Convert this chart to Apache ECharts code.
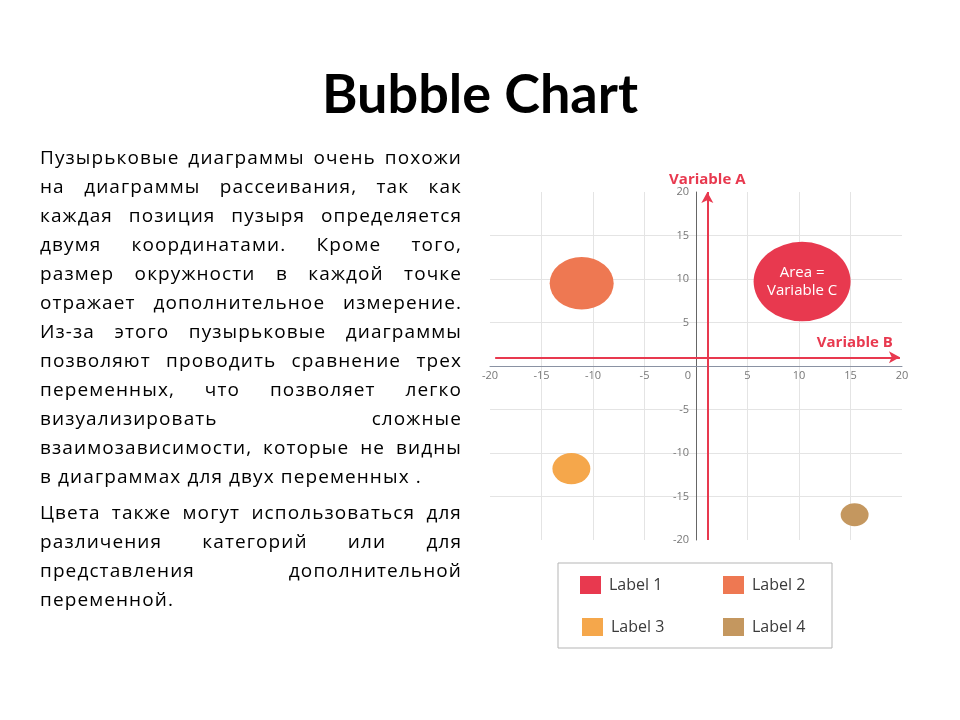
<!DOCTYPE html>
<html>
<head>
<meta charset="utf-8">
<script src="https://cdn.jsdelivr.net/npm/echarts@6/dist/echarts.min.js"></script>
<style>
html,body{margin:0;padding:0;background:#fff;}
#main{position:absolute;left:0;top:0;width:960px;height:720px;}
#text{position:absolute;left:40px;top:143px;width:422px;font-family:"Open Sans",sans-serif;font-size:19px;letter-spacing:1.1px;line-height:29px;color:#000;}
#text .ln{text-align:justify;text-align-last:justify;white-space:nowrap;}
#text .end{text-align:left;text-align-last:left;}
#text .p2{margin-top:7px;}
</style>
</head>
<body>
<div id="main"></div>
<div id="text"></div>
<script>
// строки текста слева
var para1 = [
  "Пузырьковые диаграммы очень похожи",
  "на диаграммы рассеивания, так как",
  "каждая позиция пузыря определяется",
  "двумя координатами. Кроме того,",
  "размер окружности в каждой точке",
  "отражает дополнительное измерение.",
  "Из-за этого пузырьковые диаграммы",
  "позволяют проводить сравнение трех",
  "переменных, что позволяет легко",
  "визуализировать сложные",
  "взаимозависимости, которые не видны",
  "в диаграммах для двух переменных ."
];
var para2 = [
  "Цвета также могут использоваться для",
  "различения категорий или для",
  "представления дополнительной",
  "переменной."
];

// данные пузырей: [x, y, площадь]
var labels = ["Label 1", "Label 2", "Label 3", "Label 4"];
var colors = ["#E8394F", "#EE7852", "#F5A74B", "#C4975F"];
var pointsB = [10.3, -11.1, -12.1, 15.4];
var pointsA = [9.7, 9.5, -11.8, -17.1];
var areaC = [94, 41, 14.4, 7.8];
var ticks = [-20, -15, -10, -5, 0, 5, 10, 15, 20];
var arrowA = [[1.1, -20], [1.1, 20]];
var arrowB = [[-19.5, 1], [19.8, 1]];

var html = "";
function addPara(lines, cls) {
  html += '<div class="' + cls + '">';
  for (var i = 0; i < lines.length; i++) {
    html += '<div class="ln' + (i == lines.length - 1 ? ' end' : '') + '">' + lines[i] + '</div>';
  }
  html += '</div>';
}
addPara(para1, "p1");
addPara(para2, "p2");
document.getElementById("text").innerHTML = html;

var myChart = echarts.init(document.getElementById('main'));

var series = [];
for (var i = 0; i < labels.length; i++) {
  var item = {value: [pointsB[i], pointsA[i], areaC[i]]};
  if (i == 0) {
    item.label = {
      show: true,
      position: 'inside',
      formatter: 'Area =\nVariable C',
      color: '#fff',
      fontSize: 15,
      lineHeight: 18,
      fontFamily: 'Open Sans'
    };
  }
  series.push({
    name: labels[i],
    type: 'scatter',
    data: [item],
    symbolSize: function (val) {
      var w = Math.sqrt(val[2]) * 10;
      return [w, w * 0.82];
    },
    itemStyle: {color: colors[i], opacity: 1},
    z: 3
  });
}
// красные стрелки осей
series.push({
  name: 'arrows',
  type: 'scatter',
  data: [],
  markLine: {
    silent: true,
    symbol: ['none', 'arrow'],
    symbolSize: [9, 11],
    lineStyle: {color: '#E8394F', width: 2, type: 'solid'},
    label: {
      color: '#E8394F',
      fontSize: 15,
      fontWeight: 'bold',
      fontFamily: 'Open Sans'
    },
    data: [
      [{coord: arrowA[0], label: {formatter: 'Variable A', position: 'end', distance: 5}}, {coord: arrowA[1]}],
      [{coord: arrowB[0], label: {formatter: 'Variable B', position: 'insideEndTop', distance: 7}}, {coord: arrowB[1]}]
    ]
  }
});

var legends = [];
var legendPos = [[580, 576], [723, 576], [582, 618], [723, 618]];
for (var i = 0; i < labels.length; i++) {
  legends.push({
    data: [labels[i]],
    left: legendPos[i][0],
    top: legendPos[i][1],
    padding: 0,
    itemWidth: 21,
    itemHeight: 18,
    icon: 'rect',
    selectedMode: false,
    textStyle: {fontSize: 16, color: '#3a3a3a', fontFamily: 'Open Sans', padding: [0, 0, 0, 3]}
  });
}

var gridLeft = 490, gridWidth = 412, gridTop = 192, gridHeight = 348;

var option = {
  animation: false,
  title: {
    text: 'Bubble Chart',
    left: 'center',
    top: 64,
    textStyle: {fontSize: 54, fontWeight: 'bold', color: '#000', fontFamily: 'Lato'}
  },
  grid: {left: gridLeft, width: gridWidth, top: gridTop, height: gridHeight},
  xAxis: {
    type: 'value',
    min: ticks[0],
    max: ticks[ticks.length - 1],
    interval: 5,
    position: 'bottom',
    offset: -gridHeight / 2,
    axisLine: {onZero: false, lineStyle: {color: '#8A92A3', width: 1}},
    axisTick: {show: false},
    splitLine: {show: true, showMinLine: false, showMaxLine: false, lineStyle: {color: '#E4E4E4'}},
    axisLabel: {
      color: '#777', fontSize: 11, margin: 4, fontFamily: 'Open Sans',
      formatter: function (v) { return v === 0 ? '{z|0}' : String(v); },
      rich: {z: {color: '#777', fontSize: 11, padding: [0, 16, 0, 0]}}
    }
  },
  yAxis: {
    type: 'value',
    min: ticks[0],
    max: ticks[ticks.length - 1],
    interval: 5,
    position: 'left',
    offset: -gridWidth / 2,
    axisLine: {onZero: false, lineStyle: {color: '#666', width: 1}},
    axisTick: {show: false},
    splitLine: {show: true, showMinLine: false, showMaxLine: false, lineStyle: {color: '#E4E4E4'}},
    axisLabel: {
      color: '#777', fontSize: 11, margin: 7, fontFamily: 'Open Sans',
      formatter: function (v) { return v === 0 ? '' : String(v); }
    }
  },
  legend: legends,
  graphic: [{
    type: 'rect',
    shape: {x: 558, y: 563, width: 274, height: 85},
    style: {fill: 'none', stroke: '#B5B5B5', lineWidth: 1},
    silent: true
  }],
  series: series
};
myChart.setOption(option);
</script>
</body>
</html>
